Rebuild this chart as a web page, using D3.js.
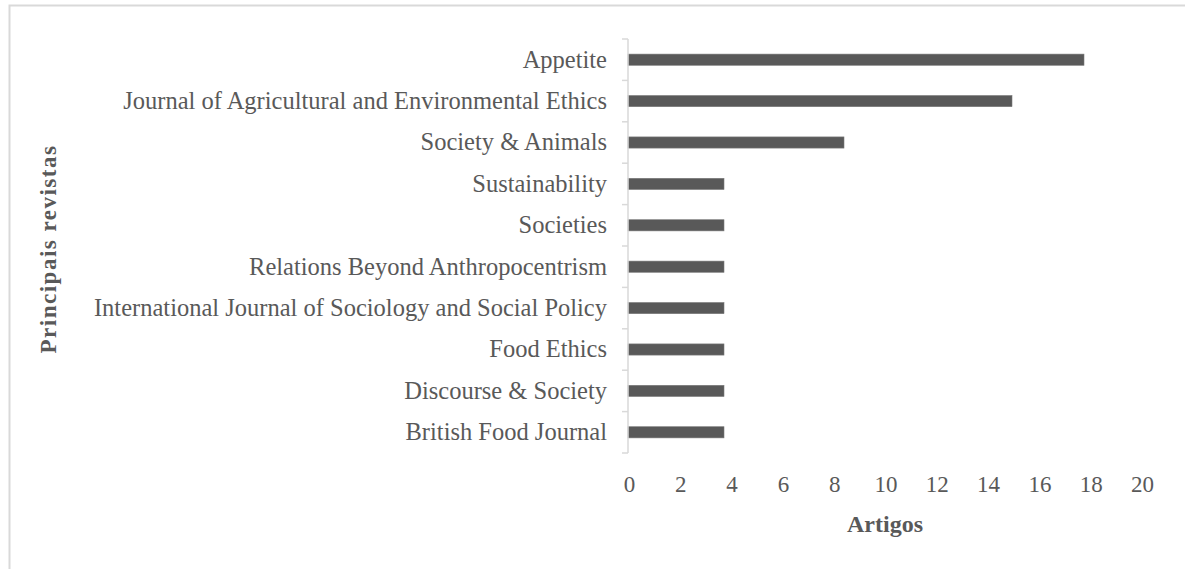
<!DOCTYPE html>
<html><head><meta charset="utf-8">
<script src="https://cdn.jsdelivr.net/npm/d3@7"></script>
<style>body{margin:0;background:#fff}svg{display:block}</style>
</head><body>
<script>
const categories = ["Appetite","Journal of Agricultural and Environmental Ethics","Society & Animals","Sustainability","Societies","Relations Beyond Anthropocentrism","International Journal of Sociology and Social Policy","Food Ethics","Discourse & Society","British Food Journal"];
const values = [19,16,9,4,4,4,4,4,4,4];
const tickValues = [0,2,4,6,8,10,12,14,16,18,20];
const xTitle = "Artigos";
const yTitle = "Principais revistas";

const W = 1185, H = 569;
const svg = d3.select("body").append("svg").attr("width", W).attr("height", H);
svg.append("rect").attr("x", 9.5).attr("y", 5.5).attr("width", W + 10).attr("height", H + 10)
  .attr("fill", "#fff").attr("stroke", "#d9d9d9").attr("stroke-width", 2);

const x0 = 628;
const x = d3.scaleLinear().domain([0, 20]).range([x0, 1108]);
const xLab = d3.scaleLinear().domain([0, 20]).range([629, 1142]);
const y = d3.scaleBand().domain(categories).range([39, 453]).paddingInner(0.73).paddingOuter(0.365);
const yB = d3.scaleBand().domain(categories).range([39, 453]);

const font = "'Liberation Serif','Times New Roman',serif";
const col = "#595959";

// bars
svg.append("g").selectAll("rect").data(categories).join("rect")
  .attr("x", x(0)).attr("y", d => y(d))
  .attr("width", (d, i) => x(values[i]) - x(0)).attr("height", y.bandwidth())
  .attr("fill", "#595959").attr("stroke", "#7a7a7a").attr("stroke-width", 0.6);

// y axis line + ticks at band boundaries
const ya = svg.append("g");
ya.append("line").attr("x1", x0).attr("x2", x0).attr("y1", 39).attr("y2", 453)
  .attr("stroke", "#d9d9d9").attr("stroke-width", 1.5);
const bounds = categories.map(c => yB(c)).concat([453]);
ya.selectAll("line.t").data(bounds).join("line").attr("class", "t")
  .attr("x1", x0 - 6).attr("x2", x0).attr("y1", d => d).attr("y2", d => d)
  .attr("stroke", "#d9d9d9").attr("stroke-width", 1.5);
ya.selectAll("text").data(categories).join("text")
  .attr("x", 607).attr("y", d => yB(d) + yB.bandwidth() / 2).attr("dy", "0.32em")
  .attr("text-anchor", "end").attr("font-family", font).attr("font-size", 24.5).attr("fill", col)
  .text(d => d);

// x axis labels
const xa = svg.append("g").attr("transform", "translate(0,492)")
  .call(d3.axisBottom(xLab).tickValues(tickValues).tickSize(0).tickPadding(0));
xa.select(".domain").remove();
xa.selectAll("text").attr("font-family", font).attr("font-size", 23).attr("fill", col).attr("dy", "0");

svg.append("text").attr("x", 885).attr("y", 532).attr("text-anchor", "middle")
  .attr("font-family", font).attr("font-size", 24).attr("font-weight", "bold").attr("fill", col).text(xTitle);
svg.append("text").attr("transform", "translate(56,249) rotate(-90)").attr("text-anchor", "middle")
  .attr("font-family", font).attr("font-size", 23).attr("font-weight", "bold").attr("letter-spacing", 1.5).attr("fill", col).text(yTitle);
</script>
</body></html>
